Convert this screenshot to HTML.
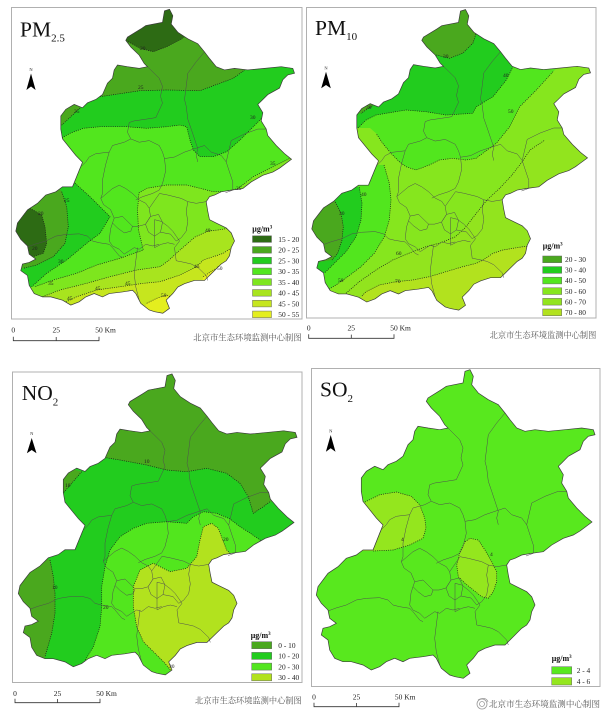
<!DOCTYPE html>
<html><head><meta charset="utf-8"><style>
html,body{margin:0;padding:0;background:#fff;}
svg{display:block;font-family:"Liberation Serif","Noto Serif CJK SC",serif;}
.ol{fill:none;stroke:#3c3c3c;stroke-width:0.7;}
.ct{fill:none;stroke:#1a1a1a;stroke-width:0.7;stroke-dasharray:1 1.2;}
.fr{fill:none;stroke:#b0b0b0;stroke-width:1;}
.lb{font-size:5.5px;fill:#222;}
.lg{font-size:7.4px;fill:#222;}
.sb{font-size:7.5px;fill:#222;}
.cn{font-size:8.3px;fill:#555;font-family:"Liberation Serif","Noto Serif CJK SC",serif;}
.sw{stroke:#666;stroke-width:0.5;}
</style></head><body>
<svg width="607" height="721" viewBox="0 0 607 721" xmlns="http://www.w3.org/2000/svg" xmlns:xlink="http://www.w3.org/1999/xlink">
<defs>
<path id="bj" d="M154,3.3 L159,1.7 L162.3,8.3 L160.7,16.7 L167.3,25 L177.3,31.7 L187.3,36.7 L194,45 L199,51.7 L205.7,60 L214,63.3 L224,61.7 L237.3,63.3 L254,61.7 L270.7,60 L282.3,61.7 L284,66.7 L277.3,68.3 L272.3,73.3 L269,81.7 L257.3,88.3 L250.7,95 L247.3,98.3 L252.3,106.7 L250.7,115 L255.7,123.3 L257.3,130 L265.7,140 L274,148.3 L281,154 L273,160 L269,163 L262.3,167 L252.3,170.3 L240.7,177 L232.3,183.7 L220.7,185.3 L210.7,187 L204,190.3 L199,192 L195.7,197 L197.3,207 L199,215.3 L205.7,218.7 L215.7,223.7 L220.7,228.7 L224,237 L220.7,243.7 L219,252 L215.7,257 L210.7,260.3 L205.7,265.3 L199,272 L194,277 L184,277 L174,280.3 L167.3,283.7 L162.3,290.3 L155.7,297 L159,305.3 L152.3,310.3 L144,308.7 L138.7,307 L130.3,300.3 L125.3,290.3 L122,287 L112,288.7 L98.7,290.3 L92,293.7 L83.7,290.3 L75.3,293.7 L68.7,298.7 L60.3,302 L52,297 L40.3,293.7 L32,293.7 L23.7,290.3 L18.7,282 L17,272 L10.3,267 L12,260.3 L18.7,258.7 L25.3,255.3 L18.7,250.3 L17,242 L10.3,235.3 L5.3,227 L7,218.7 L12,212 L17,205.3 L27,198.7 L35.3,190.3 L45.3,187 L52,182 L62,182 L72,157 L65.3,150 L52,133.3 L50.3,123.3 L50.3,110 L55.3,103.3 L63.7,98.3 L72,101.7 L77,96.7 L85.3,93.3 L92,88.3 L97,76.7 L102,71.7 L103.7,63.3 L107,58.3 L117,60 L128.7,61.7 L137,60 L133.7,56.7 L128.7,48.3 L120.3,40 L115.3,33.3 L117,30 L130.3,21.7 L135.3,18.3 L152,15 Z"/>
<g id="dist" fill="none" stroke="#4e4e4e" stroke-width="0.5">
<polyline points="194,45 185.7,55 177.3,66.7 175.7,80 174,93.3 175.7,100 177.3,113.3 180.7,123.3 184,133.3 187.3,143.3 185.7,150 187.3,156.7"/>
<polyline points="137,60 148.7,71.7 152,80 150,90 152,97 145.3,111.7 135.3,113.3 123.7,115 118.7,116.7 117,126.7 120.3,133.3"/>
<polyline points="120.3,133.3 128.7,136.7 138.7,135 148.7,140 152,146.7 154,153.3 164,151.7 174,146.7 184,143.3 194,140 200.7,146.7 210.7,150 215.7,156.7"/>
<polyline points="215.7,156.7 220.7,135 234,128.3 247.3,123.3 255.7,123.3"/>
<polyline points="215.7,156.7 219,167 222.3,177 222.3,185.3 215,188"/>
<polyline points="120.3,133.3 113.7,136.7 102,140 98.7,146.7 85.3,148.3 78.7,151.7 75.3,156.7 70,162 66,172 62,182"/>
<polyline points="98.7,146.7 95,160 92,175 92,188.7 90.3,193.7"/>
<polyline points="90.3,193.7 102,183.7 108.7,180.3 115.3,183.7 122,188.7 128.7,195.3 135.3,198.7 138.7,203.7"/>
<polyline points="154,153.3 155.3,165.3 152,178.7 148.7,185.3 142,188.7 132,192 125.3,195.3"/>
<polyline points="149,188.7 157.3,190.3 170.7,193.7 177.3,197 185.7,198.7 195.7,197"/>
<polyline points="177.3,197 175.7,207 177.3,217 175.7,227 170.7,233.7 165.7,237"/>
<polyline points="144,215.3 150.7,217 157.3,222 162.3,227 165.7,232 169,237 164,243.7 165.7,257 174,258.7 180.7,260.3 187.3,263.7 195.7,272 197.3,277"/>
<polyline points="144,243.7 150.7,240.3 157.3,238.7 164,240.3"/>
<polyline points="17,243 25,240 35.3,237 45.3,232 55.3,230.3 68.7,229.7 77,232 82,237 88.7,238.7 98.7,240.3 102,243.7 108.7,252 112,253.7"/>
<polyline points="127,243.7 125.3,257 123.7,270.3 125.3,283.7 128.7,297"/>
<polyline points="98.7,237 102,242 108.7,245.3 113.7,250.3 118.7,247 123.7,243.7 128.7,245.3 135.3,240.3 142,242 148.7,240.3"/>
<polygon points="103.7,213.7 112,212 117,217 122,222 120.3,227 113.7,228.7 107,223.7 102,218.7"/>
<polyline points="90.3,193.7 93,200 100,205 103.7,213.7"/>
<polyline points="102,218.7 100,225 98.7,237"/>
<polyline points="138.7,203.7 140,212 135,220 128,222 122,222"/>
<polygon points="140,212 148,210 152,218 150,228 144,232 138,228 135,220"/>
<polyline points="144,215.3 144,243.7"/>
<polyline points="150,228 160,230 165.7,237"/>
<polyline points="138.7,203.7 149,188.7"/>
</g>
<clipPath id="cA"><use href="#bj" xlink:href="#bj" transform="translate(10.5,7.6) scale(1,0.985)"/></clipPath>
<clipPath id="cB"><use href="#bj" xlink:href="#bj" transform="translate(306.5,7.9) scale(1,0.974)"/></clipPath>
<clipPath id="cC"><use href="#bj" xlink:href="#bj" transform="translate(13,372.3) scale(1,0.975)"/></clipPath>
<clipPath id="cD"><use href="#bj" xlink:href="#bj" transform="translate(311,368)"/></clipPath>
</defs>

<rect x="0" y="0" width="607" height="721" fill="#fff"/>

<!-- Frames -->
<rect class="fr" x="11.5" y="7.5" width="290.5" height="311.5"/>
<rect class="fr" x="306.5" y="7.5" width="289.5" height="310.5"/>
<rect class="fr" x="12.5" y="372" width="289.5" height="310.5"/>
<rect class="fr" x="311.5" y="368.5" width="288.5" height="318"/>

<!-- ================= PM2.5 ================= -->
<g clip-path="url(#cA)">
<rect x="0" y="0" width="310" height="330" fill="#c6e61e"/>
<polygon fill="#a8e41e" points="0,0 310,0 310,246.7 233.3,246.7 223.3,253.3 213.3,256.7 203.3,260 196.7,266.7 180,275 160,281.7 143.3,283.3 120,286.7 96.7,290 76.7,296.7 63.3,303.3 50,310 0,310"/>
<polygon fill="#7ee61e" points="0,0 310,0 310,225 240,225 230,228 218,230 208.3,231 195,237 180,250 168,261 160,266.7 136.7,270 110,276.7 86.7,283.3 60,290 38.3,298.3 0,305"/>
<polygon fill="#52e61e" points="0,0 310,0 310,150 293.3,156.7 280,163.3 266.7,170 253.3,176.7 238.3,188.3 226.7,191.7 213.3,191.7 200,188.3 186.7,185 166.7,185 146.7,188.3 139,193 137.5,210 138.5,230 143.3,250 120,258.3 96.7,265 76.7,273.3 53.3,280 35,286.7 0,290"/>
<polygon fill="#22cc1e" points="0,0 310,0 310,105 266.7,113.3 263.3,116.7 253.3,126.7 240,140 226.7,151.7 213.3,156.7 200,156.7 193.3,150 190,140 186.7,126.7 180,125 166.7,126.7 146.7,128.3 126.7,126.7 100,126.7 83.3,128.3 70,133.3 58.3,140 0,140"/>
<polygon fill="#22cc1e" points="0,160 60,165 73.3,181.7 90,196.7 110,216.7 100,233.3 86.7,243.3 66.7,260 46.7,273.3 31.7,286.7 0,290"/>
<polygon fill="#4aa81e" points="0,0 260,0 250,66 233.3,78.3 200,90.7 166.7,90 140,90.7 100,96.7 0,100"/>
<polygon fill="#4aa81e" points="30,95 83.3,105 58.3,128.3 30,135"/>
<polygon fill="#4aa81e" points="0,175 55,182 61.7,191.7 66.7,206.7 68.3,226.7 65,243.3 53.3,256.7 36.7,265 23.3,268.3 0,272"/>
<polygon fill="#2d6b14" points="120,0 120,41.7 128,41.7 140,48.3 153.3,51.7 166.7,46.7 182.7,38.3 200,30 200,0"/>
<polygon fill="#2d6b14" points="0,195 30,208.3 41.7,215 45,226.7 46.7,243.3 43.3,253.3 33,256.7 30,262 0,262"/>
<polygon fill="#e4ee1e" points="140,320 146.7,303.3 156.7,298.3 166.7,295 173.3,298.3 180,305 185,320"/>
<polygon fill="#e4ee1e" points="200,290 203.3,276.7 213.3,270 223,265 235,258 250,258 250,290"/>
<polyline class="ct" points="128,41.7 140,48.3 153.3,51.7 166.7,46.7 182.7,38.3"/>
<polyline class="ct" points="30,208.3 41.7,215 45,226.7 46.7,243.3 43.3,253.3 33,256.7"/>
<polyline class="ct" points="100,96.7 140,90.7 166.7,90 200,90.7 233.3,78.3 250,66"/>
<polyline class="ct" points="83.3,105 58.3,128.3"/>
<polyline class="ct" points="61.7,191.7 66.7,206.7 68.3,226.7 65,243.3 53.3,256.7 36.7,265 23.3,268.3"/>
<polyline class="ct" points="58.3,140 70,133.3 83.3,128.3 100,126.7 126.7,126.7 146.7,128.3 166.7,126.7 180,125 186.7,126.7 190,140 193.3,150 200,156.7 213.3,156.7 226.7,151.7 240,140 253.3,126.7 263.3,116.7 266.7,113.3"/>
<polyline class="ct" points="73.3,181.7 90,196.7 110,216.7 100,233.3 86.7,243.3 66.7,260 46.7,273.3 31.7,286.7"/>
<polyline class="ct" points="293.3,156.7 280,163.3 266.7,170 253.3,176.7 238.3,188.3 226.7,191.7 213.3,191.7 200,188.3 186.7,185 166.7,185 146.7,188.3 139,193 137.5,210 138.5,230 143.3,250 120,258.3 96.7,265 76.7,273.3 53.3,280 35,286.7"/>
<polyline class="ct" points="240,225 230,228 218,230 208.3,231 195,237 180,250 168,261 160,266.7 136.7,270 110,276.7 86.7,283.3 60,290 38.3,298.3"/>
<polyline class="ct" points="233.3,246.7 223.3,253.3 213.3,256.7 203.3,260 196.7,266.7 180,275 160,281.7 143.3,283.3 120,286.7 96.7,290 76.7,296.7 63.3,303.3"/>
<polyline class="ct" points="146.7,303.3 156.7,298.3 166.7,295 173.3,298.3 180,305"/>
<polyline class="ct" points="203.3,276.7 213.3,270 223,265 235,258"/>
</g>
<use href="#dist" xlink:href="#dist" transform="translate(10.5,7.6) scale(1,0.985)"/>
<use class="ol" href="#bj" xlink:href="#bj" transform="translate(10.5,7.6) scale(1,0.985)"/>
<g class="lb">
<text x="140" y="50">20</text><text x="138" y="89">25</text><text x="74" y="113">25</text>
<text x="250" y="119">30</text><text x="64" y="202">25</text><text x="38" y="215">20</text>
<text x="32" y="250">20</text><text x="58" y="263">30</text><text x="270" y="165">35</text>
<text x="236" y="190">35</text><text x="205" y="232">40</text><text x="95" y="290">45</text>
<text x="125" y="285">45</text><text x="194" y="268">45</text><text x="161" y="297">50</text>
<text x="217" y="270">50</text><text x="48" y="285">35</text><text x="67" y="300">45</text>
</g>
<text x="20" y="36.7" font-size="21.5" fill="#111">PM<tspan font-size="11" dy="5">2.5</tspan></text>
<text x="31" y="71" font-size="4.5" text-anchor="middle" fill="#222">N</text>
<polygon points="31,73.5 35.6,90 31,86.5 26.4,90" fill="#000"/>
<text x="252.3" y="231.5" font-size="8" font-weight="bold" fill="#111">μg/m<tspan font-size="5" dy="-3">3</tspan></text>
<g class="sw">
<rect x="252.5" y="235.8" width="19" height="6.6" fill="#2d6b14"/>
<rect x="252.5" y="246.55" width="19" height="6.6" fill="#4aa81e"/>
<rect x="252.5" y="257.3" width="19" height="6.6" fill="#22cc1e"/>
<rect x="252.5" y="268.05" width="19" height="6.6" fill="#52e61e"/>
<rect x="252.5" y="278.8" width="19" height="6.6" fill="#7ee61e"/>
<rect x="252.5" y="289.55" width="19" height="6.6" fill="#a8e41e"/>
<rect x="252.5" y="300.3" width="19" height="6.6" fill="#c6e61e"/>
<rect x="252.5" y="311.05" width="19" height="6.6" fill="#e4ee1e"/>
</g>
<g class="lg">
<text x="278.3" y="241.8">15 - 20</text><text x="278.3" y="252.5">20 - 25</text>
<text x="278.3" y="263.3">25 - 30</text><text x="278.3" y="274">30 - 35</text>
<text x="278.3" y="284.8">35 - 40</text><text x="278.3" y="295.5">40 - 45</text>
<text x="278.3" y="306.3">45 - 50</text><text x="278.3" y="317">50 - 55</text>
</g>
<g class="sb">
<text x="13.3" y="332.5" text-anchor="middle">0</text>
<text x="56.2" y="332.5" text-anchor="middle">25</text>
<text x="95.2" y="332.5">50 Km</text>
</g>
<path d="M13.3,336.7 V340.7 H99 V336.7 M56.2,337 V340.7" fill="none" stroke="#333" stroke-width="0.8"/>
<text class="cn" x="193.3" y="340.3" textLength="108.4" lengthAdjust="spacingAndGlyphs">北京市生态环境监测中心制图</text>

<!-- ================= PM10 ================= -->
<g clip-path="url(#cB)">
<rect x="300" y="0" width="307" height="330" fill="#92e41e"/>
<polygon fill="#86e61e" points="300,0 600,0 600,140 545,140 530,150 522,162 512,175 500,188 487,200 475,215 465,228 455,237 440,243 426,246.7 412.7,251.7 392.7,260 376,270 359.3,281.7 346,293.3 300,300"/>
<polygon fill="#52e61e" points="300,0 600,0 600,60 560,65 553,71.7 536.3,90 519.7,106.7 509.7,126.7 496.3,143.3 476,158.3 466,160 452.7,158.3 439.3,160 429.3,165 416,170 406,166.7 399.3,161.7 391,153.3 382.7,143.3 376,133.3 370,128 300,128"/>
<polygon fill="#52e61e" points="300,163 384,165 389.3,183.3 391,200 389.3,220 384.3,236.7 374.3,253.3 361,266.7 347.7,276.7 336,285 327.7,290 300,300"/>
<polygon fill="#22cc1e" points="300,0 520,0 513,66.7 506.3,80 493,96.7 476.3,106.7 472.7,113.3 446,115 426,111.7 406,110 386,113.3 376,115 366,120 358,128 300,128"/>
<polygon fill="#22cc1e" points="300,180 359.3,187.3 362,203.3 361,220 356,236.7 346,251.7 334.3,263.3 324.3,273.3 300,280"/>
<polygon fill="#4aa81e" points="420,0 420,50 436.3,55 449.7,58.3 463,53 473,43 476.3,33 490,20 490,0"/>
<polygon fill="#4aa81e" points="350,95 380,98 376,103.3 361,113.3 350,115"/>
<polygon fill="#4aa81e" points="300,195 334.3,200 341,213.3 343.3,226.7 342,240 337.7,253.3 332,260 300,265"/>
<polygon fill="#b2e21e" points="340,330 362,296 366,291.7 379.3,285 396,281.7 412.7,280 429.3,276.7 446,271.7 462.7,266.7 476.3,263.3 483,260 493,253.3 503,250 513,248.3 523,246.7 532,246 560,240 560,330"/>
<polyline class="ct" points="436.3,55 449.7,58.3 463,53 473,43 476.3,33"/>
<polyline class="ct" points="376,103.3 361,113.3"/>
<polyline class="ct" points="334.3,200 341,213.3 343.3,226.7 342,240 337.7,253.3 332,260"/>
<polyline class="ct" points="358,128 366,120 376,115 386,113.3 406,110 426,111.7 446,115 472.7,113.3 476.3,106.7 493,96.7 506.3,80 513,66.7"/>
<polyline class="ct" points="359.3,187.3 362,203.3 361,220 356,236.7 346,251.7 334.3,263.3 324.3,273.3"/>
<polyline class="ct" points="553,71.7 536.3,90 519.7,106.7 509.7,126.7 496.3,143.3 476,158.3 466,160 452.7,158.3 439.3,160 429.3,165 416,170 406,166.7 399.3,161.7 391,153.3 382.7,143.3 376,133.3"/>
<polyline class="ct" points="384,165 389.3,183.3 391,200 389.3,220 384.3,236.7 374.3,253.3 361,266.7 347.7,276.7 336,285 327.7,290"/>
<polyline class="ct" points="346,293.3 359.3,281.7 376,270 392.7,260 412.7,251.7 426,246.7 440,243 455,237 465,228 475,215 487,200 500,188 512,175 522,162 530,150 545,140"/>
<polyline class="ct" points="362,296 366,291.7 379.3,285 396,281.7 412.7,280 429.3,276.7 446,271.7 462.7,266.7 476.3,263.3 483,260 493,253.3 503,250 513,248.3 523,246.7 532,246"/>
</g>
<use href="#dist" xlink:href="#dist" transform="translate(306.5,7.9) scale(1,0.974)"/>
<use class="ol" href="#bj" xlink:href="#bj" transform="translate(306.5,7.9) scale(1,0.974)"/>
<g class="lb">
<text x="443" y="58">30</text><text x="503" y="77">40</text><text x="508" y="113">50</text>
<text x="339" y="215">30</text><text x="361" y="196">40</text><text x="338" y="282">50</text>
<text x="396" y="255">60</text><text x="395" y="283">70</text><text x="366" y="109">30</text>
</g>
<text x="315" y="35" font-size="21.5" fill="#111">PM<tspan font-size="11" dy="5">10</tspan></text>
<text x="326" y="69.3" font-size="4.5" text-anchor="middle" fill="#222">N</text>
<polygon points="326,71.7 330.8,88.3 326,85 321.2,88.3" fill="#000"/>
<text x="542.7" y="248.3" font-size="8" font-weight="bold" fill="#111">μg/m<tspan font-size="5" dy="-3">3</tspan></text>
<g class="sw">
<rect x="542.7" y="256" width="19" height="6.7" fill="#4aa81e"/>
<rect x="542.7" y="266.6" width="19" height="6.7" fill="#22cc1e"/>
<rect x="542.7" y="277.2" width="19" height="6.7" fill="#52e61e"/>
<rect x="542.7" y="287.8" width="19" height="6.7" fill="#86e61e"/>
<rect x="542.7" y="298.4" width="19" height="6.7" fill="#92e41e"/>
<rect x="542.7" y="309" width="19" height="6.7" fill="#b2e21e"/>
</g>
<g class="lg">
<text x="565" y="262">20 - 30</text><text x="565" y="272.6">30 - 40</text>
<text x="565" y="283.2">40 - 50</text><text x="565" y="293.8">50 - 60</text>
<text x="565" y="304.4">60 - 70</text><text x="565" y="315">70 - 80</text>
</g>
<g class="sb">
<text x="308.7" y="330.5" text-anchor="middle">0</text>
<text x="351.3" y="330.5" text-anchor="middle">25</text>
<text x="390.2" y="330.5">50 Km</text>
</g>
<path d="M308.7,334.3 V338.3 H394 V334.3 M351.3,334.6 V338.3" fill="none" stroke="#333" stroke-width="0.8"/>
<text class="cn" x="489.7" y="338.2" textLength="106.6" lengthAdjust="spacingAndGlyphs">北京市生态环境监测中心制图</text>

<!-- ================= NO2 ================= -->
<g clip-path="url(#cC)">
<rect x="0" y="360" width="310" height="340" fill="#52e61e"/>
<polygon fill="#22cc1e" points="0,360 300,360 300,546 270,546 260,540 250,533 240,526.7 230,519 216.7,513.3 203.3,511.7 193.3,516.7 186.7,523.3 166.7,521.7 146.7,523.3 133.3,528.3 120,536.7 110,550 105,566.7 101.7,586.7 101.7,606.7 100,626.7 93.3,646.7 83.3,663.3 78,680 0,690"/>
<polygon fill="#4aa81e" points="0,360 300,360 300,501.7 270,501.7 263.3,506.7 253.3,513.3 248.3,496.7 240,483.3 226.7,473.3 206.7,468.3 186.7,471.7 166.7,470 146.7,465 120,460 100,456.7 0,456"/>
<polygon fill="#4aa81e" points="40,460 81.7,471.7 60,496.7 40,500"/>
<polygon fill="#4aa81e" points="0,545 50,560 53.3,576.7 55,593.3 55,613.3 51.7,633.3 45,656.7 40,680 0,690"/>
<polygon fill="#b2e21e" points="300,560 240,560 233.3,556.7 226.7,550 222.7,540 218.3,528.3 211.7,523.3 203.3,526.7 200,540 196.7,556.7 186.7,568.3 170,571.7 153.3,563.3 140,570 133.3,586.7 133.3,606.7 136.7,626.7 143.3,641.7 155,653.3 165,663.3 171.7,671.7 175,690 300,690"/>
<polyline class="ct" points="100,456.7 120,460 146.7,465 166.7,470 186.7,471.7 206.7,468.3 226.7,473.3 240,483.3 248.3,496.7 253.3,513.3 263.3,506.7 270,501.7"/>
<polyline class="ct" points="81.7,471.7 60,496.7"/>
<polyline class="ct" points="50,560 53.3,576.7 55,593.3 55,613.3 51.7,633.3 45,656.7"/>
<polyline class="ct" points="270,546 260,540 250,533 240,526.7 230,519 216.7,513.3 203.3,511.7 193.3,516.7 186.7,523.3 166.7,521.7 146.7,523.3 133.3,528.3 120,536.7 110,550 105,566.7 101.7,586.7 101.7,606.7 100,626.7 93.3,646.7 83.3,663.3 78,680"/>
<polyline class="ct" points="233.3,556.7 226.7,550 222.7,540 218.3,528.3 211.7,523.3 203.3,526.7 200,540 196.7,556.7 186.7,568.3 170,571.7 153.3,563.3 140,570 133.3,586.7 133.3,606.7 136.7,626.7 143.3,641.7 155,653.3 165,663.3 171.7,671.7"/>
</g>
<use href="#dist" xlink:href="#dist" transform="translate(13,372.3) scale(1,0.975)"/>
<use class="ol" href="#bj" xlink:href="#bj" transform="translate(13,372.3) scale(1,0.975)"/>
<g class="lb">
<text x="144" y="463">10</text><text x="65" y="487">10</text><text x="52" y="589">10</text>
<text x="103" y="609">20</text><text x="223" y="541">20</text><text x="169" y="668">30</text>
</g>
<text x="21.7" y="400" font-size="21.5" fill="#111">NO<tspan font-size="11" dy="5.5">2</tspan></text>
<text x="31.7" y="435" font-size="4.5" text-anchor="middle" fill="#222">N</text>
<polygon points="31.7,438 36.5,453.3 31.7,450 26.9,453.3" fill="#000"/>
<text x="250.7" y="638" font-size="8" font-weight="bold" fill="#111">μg/m<tspan font-size="5" dy="-3">3</tspan></text>
<g class="sw">
<rect x="251.7" y="641.7" width="20" height="7" fill="#4aa81e"/>
<rect x="251.7" y="652.4" width="20" height="7" fill="#22cc1e"/>
<rect x="251.7" y="663.1" width="20" height="7" fill="#52e61e"/>
<rect x="251.7" y="673.8" width="20" height="7" fill="#b2e21e"/>
</g>
<g class="lg">
<text x="278.3" y="648">0 - 10</text><text x="278.3" y="658.7">10 - 20</text>
<text x="278.3" y="669.4">20 - 30</text><text x="278.3" y="680.1">30 - 40</text>
</g>
<g class="sb">
<text x="15" y="696" text-anchor="middle">0</text>
<text x="57.5" y="696" text-anchor="middle">25</text>
<text x="96.2" y="696">50 Km</text>
</g>
<path d="M15,698.7 V702.7 H100 V698.7 M57.5,699 V702.7" fill="none" stroke="#333" stroke-width="0.8"/>
<text class="cn" x="195" y="703.6" textLength="106.7" lengthAdjust="spacingAndGlyphs">北京市生态环境监测中心制图</text>

<!-- ================= SO2 ================= -->
<g clip-path="url(#cD)">
<rect x="300" y="360" width="307" height="340" fill="#58e81e"/>
<polygon fill="#94e61e" points="355,500 363,503 379.7,494.7 396.3,492 411.3,496.3 419.7,504.7 424.7,518 426,528 423,538.3 409.7,545 393,550 373,551 355,551"/>
<path fill="#94e61e" d="M465,541.7 L470,538.3 478.3,540 485,550 491.7,561.7 496.7,571.7 496.7,581.7 493.3,591.7 488.3,598.3 481.7,596.7 473.3,590 465,583.3 458.3,576.7 456.7,565 460,551.7 Z"/>
<polyline class="ct" points="363,503 379.7,494.7 396.3,492 411.3,496.3 419.7,504.7 424.7,518 426,528 423,538.3 409.7,545 393,550 373,551"/>
<path class="ct" d="M465,541.7 L470,538.3 478.3,540 485,550 491.7,561.7 496.7,571.7 496.7,581.7 493.3,591.7 488.3,598.3 481.7,596.7 473.3,590 465,583.3 458.3,576.7 456.7,565 460,551.7 Z"/>
</g>
<use href="#dist" xlink:href="#dist" transform="translate(311,368)"/>
<use class="ol" href="#bj" xlink:href="#bj" transform="translate(311,368)"/>
<g class="lb">
<text x="401" y="541">4</text><text x="490" y="556">4</text>
</g>
<text x="320" y="396.7" font-size="21.5" fill="#111">SO<tspan font-size="11" dy="5.5">2</tspan></text>
<text x="330.7" y="432.5" font-size="4.5" text-anchor="middle" fill="#222">N</text>
<polygon points="330.7,435 335.5,451.7 330.7,448.2 325.9,451.7" fill="#000"/>
<text x="551.7" y="661" font-size="8" font-weight="bold" fill="#111">μg/m<tspan font-size="5" dy="-3">3</tspan></text>
<g class="sw">
<rect x="551.7" y="666.7" width="20" height="7.3" fill="#58e81e"/>
<rect x="551.7" y="677.7" width="20" height="7.3" fill="#94e61e"/>
</g>
<g class="lg">
<text x="576.7" y="673">2 - 4</text><text x="576.7" y="684">4 - 6</text>
</g>
<g class="sb">
<text x="314" y="699.5" text-anchor="middle">0</text>
<text x="356.5" y="699.5" text-anchor="middle">25</text>
<text x="394.9" y="699.5">50 Km</text>
</g>
<path d="M314,702.7 V706.7 H399 V702.7 M356.5,703 V706.7" fill="none" stroke="#333" stroke-width="0.8"/>
<!-- watermark -->
<g fill="none" stroke="#9a9a9a" stroke-width="0.8">
<circle cx="482" cy="704" r="5"/>
<circle cx="482" cy="704" r="2.5"/>
<path d="M478,700 Q486,696 488,702"/>
</g>
<text class="cn" x="489" y="707" textLength="111" lengthAdjust="spacingAndGlyphs" fill="#777">北京市生态环境监测中心制图</text>
</svg>
</body></html>
